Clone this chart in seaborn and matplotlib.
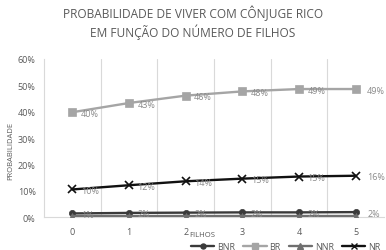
import matplotlib
matplotlib.use("Agg")
import matplotlib.pyplot as plt
import seaborn as sns
import pandas as pd
from matplotlib.lines import Line2D

filhos = [0, 1, 2, 3, 4, 5]
series_names = ["BNR", "BR", "NNR", "NR"]
bnr = [0.014, 0.016, 0.017, 0.018, 0.018, 0.019]
br = [0.398, 0.433, 0.461, 0.477, 0.486, 0.486]
nnr = [0.004, 0.004, 0.004, 0.004, 0.004, 0.004]
nr = [0.105, 0.121, 0.136, 0.146, 0.154, 0.157]
y_ticks = [0, 0.1, 0.2, 0.3, 0.4, 0.5, 0.6]
title_lines = ["PROBABILIDADE DE VIVER COM CÔNJUGE RICO", "EM FUNÇÃO DO NÚMERO DE FILHOS"]

values = {"BNR": bnr, "BR": br, "NNR": nnr, "NR": nr}
rows = []
for s in series_names:
    for x, v in zip(filhos, values[s]):
        rows.append({"Filhos": x, "Prob": v, "Serie": s})
df = pd.DataFrame(rows)

colors = {"BNR": "#3a3a3a", "BR": "#a5a5a5", "NNR": "#6f6f6f", "NR": "#111111"}
markers = {"BNR": "o", "BR": "s", "NNR": "^", "NR": "x"}
msizes = {"BNR": 4.5, "BR": 6, "NNR": 5, "NR": 6}

sns.set_theme(style="white")
plt.rcParams["font.family"] = ["Open Sans", "DejaVu Sans"]

fig = plt.figure(figsize=(3.86, 2.51), dpi=100)
ax = fig.add_axes([0.114, 0.131, 0.881, 0.63])

for s in series_names:
    sub = df[df["Serie"] == s]
    sns.lineplot(data=sub, x="Filhos", y="Prob", ax=ax, color=colors[s],
                 marker=markers[s], markersize=msizes[s], linewidth=1.7,
                 markeredgecolor=colors[s], markeredgewidth=1.2 if s == "NR" else 0.5,
                 legend=False, zorder=3)

# data labels
label_color = "#8a8a8a"
for s in ["BR", "NR", "BNR"]:
    for x, v in zip(filhos, values[s]):
        dx = 0.15 if x < 5 else 0.2
        ax.text(x + dx, v - 0.004, f"{round(v*100):.0f}%", fontsize=6.5,
                color=label_color, ha="left", va="center", zorder=4, clip_on=False)

ax.set_xlim(-0.5, 5.5)
ax.set_ylim(0, 0.6)
ax.set_yticks(y_ticks)
ax.set_yticklabels([f"{int(round(t*100))}%" for t in y_ticks])
ax.set_xticks(filhos)
ax.set_xticklabels([str(f) for f in filhos])
ax.tick_params(axis="both", labelsize=6.5, colors="#595959", length=0, pad=6)
ax.tick_params(axis="x", pad=7)

for xv in [0.5, 1.5, 2.5, 3.5, 4.5]:
    ax.axvline(xv, color="#d9d9d9", linewidth=0.8, zorder=1)

for side in ["top", "right"]:
    ax.spines[side].set_visible(False)
ax.spines["left"].set_color("#d9d9d9")
ax.spines["bottom"].set_color("#d9d9d9")
ax.spines["left"].set_linewidth(0.8)
ax.spines["bottom"].set_linewidth(0.8)

ax.set_xlabel("")
ax.set_ylabel("")
fig.text(0.028, 0.40, "PROBABILIDADE", rotation=90, fontsize=5.5, color="#595959",
         ha="center", va="center")
fig.text(0.49, 0.06, "FILHOS", fontsize=5.5, color="#595959", ha="left", va="center")

fig.text(0.5, 0.945, title_lines[0], fontsize=8.6, color="#595959", ha="center", va="center")
fig.text(0.5, 0.87, title_lines[1], fontsize=8.6, color="#595959", ha="center", va="center")

handles = [Line2D([0], [0], color=colors[s], marker=markers[s], markersize=msizes[s] * 0.8,
                  linewidth=1.7, markeredgecolor=colors[s]) for s in series_names]
fig.legend(handles, series_names, loc="center", bbox_to_anchor=(0.74, 0.015), ncol=4,
           frameon=False, fontsize=6.5, handlelength=2.6, columnspacing=0.9,
           handletextpad=0.3, labelcolor="#595959")

fig.savefig("out.png", dpi=100, facecolor="white")
